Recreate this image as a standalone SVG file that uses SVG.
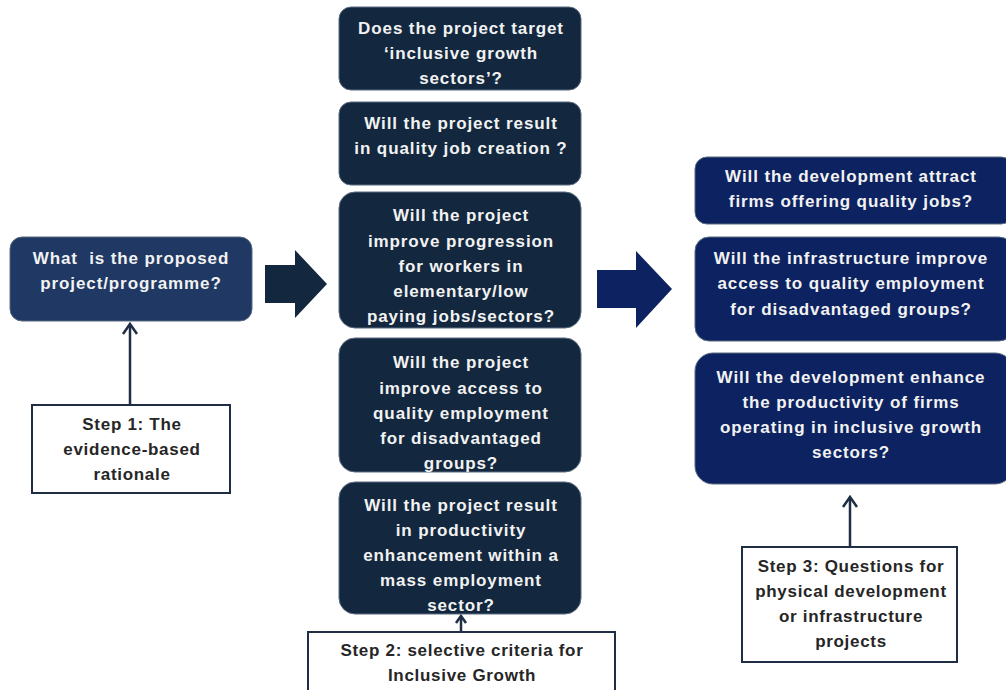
<svg xmlns="http://www.w3.org/2000/svg" width="1006" height="690" viewBox="0 0 1006 690">
<style>
.bx{stroke:#5a6a80;stroke-width:1}
.b1{fill:#1f3864}
.b2{fill:#13283f}
.b3{fill:#0d2260}
.t{font-family:"Liberation Sans",Arial,sans-serif;font-weight:bold;font-size:17px;letter-spacing:0.9px;fill:#f2f2f2;text-anchor:middle}
.st{fill:#ffffff;stroke:#1f2d45;stroke-width:2}
.s{font-family:"Liberation Sans",Arial,sans-serif;font-weight:bold;font-size:17px;letter-spacing:0.7px;fill:#262626;text-anchor:middle}
.ln{stroke:#1f2d45;stroke-width:2.5;fill:none}
.ah{stroke:#1f2d45;stroke-width:2.5;fill:none;stroke-linejoin:miter}
</style>
<rect width="1006" height="690" fill="#ffffff"/>
<g id="connectors">
<path d="M265,265 H295 V250 L327,284 L295,318 V303 H265 Z" fill="#13283f"/>
<path d="M597,270 H636 V251 L672,289 L636,328 V308 H597 Z" fill="#0d2260"/>
<line class="ln" x1="130" y1="405" x2="130" y2="325"/>
<polyline class="ah" points="123,334 130,324 137,334"/>
<line class="ln" x1="461" y1="632" x2="461" y2="617"/>
<polyline class="ah" points="456,623 461,616 466,623"/>
<line class="ln" x1="850" y1="547" x2="850" y2="498"/>
<polyline class="ah" points="843,507 850,497 857,507"/>
</g>
<g id="n1">
<rect class="bx b1" x="10" y="237" width="242" height="84" rx="12"/>
<text class="t" x="131" y="264" style="white-space:pre">What  is the proposed</text>
<text class="t" x="131" y="289">project/programme?</text>
</g>
<g id="step1">
<rect class="st" x="32" y="405" width="198" height="88"/>
<text class="s" x="132" y="430">Step 1: The</text>
<text class="s" x="132" y="455">evidence-based</text>
<text class="s" x="132" y="480">rationale</text>
</g>
<g id="m1">
<rect class="bx b2" x="339" y="7" width="242" height="83" rx="12"/>
<text class="t" x="461" y="34">Does the project target</text>
<text class="t" x="461" y="59">‘inclusive growth</text>
<text class="t" x="461" y="84">sectors’?</text>
</g>
<g id="m2">
<rect class="bx b2" x="339" y="102" width="242" height="83" rx="12"/>
<text class="t" x="461" y="129">Will the project result</text>
<text class="t" x="461" y="154">in quality job creation ?</text>
</g>
<g id="m3">
<rect class="bx b2" x="339" y="192" width="242" height="136" rx="16"/>
<text class="t" x="461" y="221">Will the project</text>
<text class="t" x="461" y="247">improve progression</text>
<text class="t" x="461" y="272">for workers in</text>
<text class="t" x="461" y="297">elementary/low</text>
<text class="t" x="461" y="322">paying jobs/sectors?</text>
</g>
<g id="m4">
<rect class="bx b2" x="339" y="338" width="242" height="134" rx="16"/>
<text class="t" x="461" y="368">Will the project</text>
<text class="t" x="461" y="394">improve access to</text>
<text class="t" x="461" y="419">quality employment</text>
<text class="t" x="461" y="444">for disadvantaged</text>
<text class="t" x="461" y="469">groups?</text>
</g>
<g id="m5">
<rect class="bx b2" x="339" y="482" width="242" height="132" rx="16"/>
<text class="t" x="461" y="511">Will the project result</text>
<text class="t" x="461" y="536">in productivity</text>
<text class="t" x="461" y="561">enhancement within a</text>
<text class="t" x="461" y="586">mass employment</text>
<text class="t" x="461" y="611">sector?</text>
</g>
<g id="step2">
<rect class="st" x="308" y="632" width="307" height="70"/>
<text class="s" x="462" y="656">Step 2: selective criteria for</text>
<text class="s" x="462" y="681">Inclusive Growth</text>
</g>
<g id="r1">
<rect class="bx b3" x="695" y="157" width="318" height="67" rx="12"/>
<text class="t" x="851" y="182">Will the development attract</text>
<text class="t" x="851" y="207">firms offering quality jobs?</text>
</g>
<g id="r2">
<rect class="bx b3" x="695" y="237" width="318" height="104" rx="14"/>
<text class="t" x="851" y="264">Will the infrastructure improve</text>
<text class="t" x="851" y="289">access to quality employment</text>
<text class="t" x="851" y="315">for disadvantaged groups?</text>
</g>
<g id="r3">
<rect class="bx b3" x="695" y="353" width="318" height="131" rx="18"/>
<text class="t" x="851" y="383">Will the development enhance</text>
<text class="t" x="851" y="408">the productivity of firms</text>
<text class="t" x="851" y="433">operating in inclusive growth</text>
<text class="t" x="851" y="458">sectors?</text>
</g>
<g id="step3">
<rect class="st" x="742" y="547" width="215" height="115"/>
<text class="s" x="851" y="572">Step 3: Questions for</text>
<text class="s" x="851" y="597">physical development</text>
<text class="s" x="851" y="622">or infrastructure</text>
<text class="s" x="851" y="647">projects</text>
</g>
</svg>
